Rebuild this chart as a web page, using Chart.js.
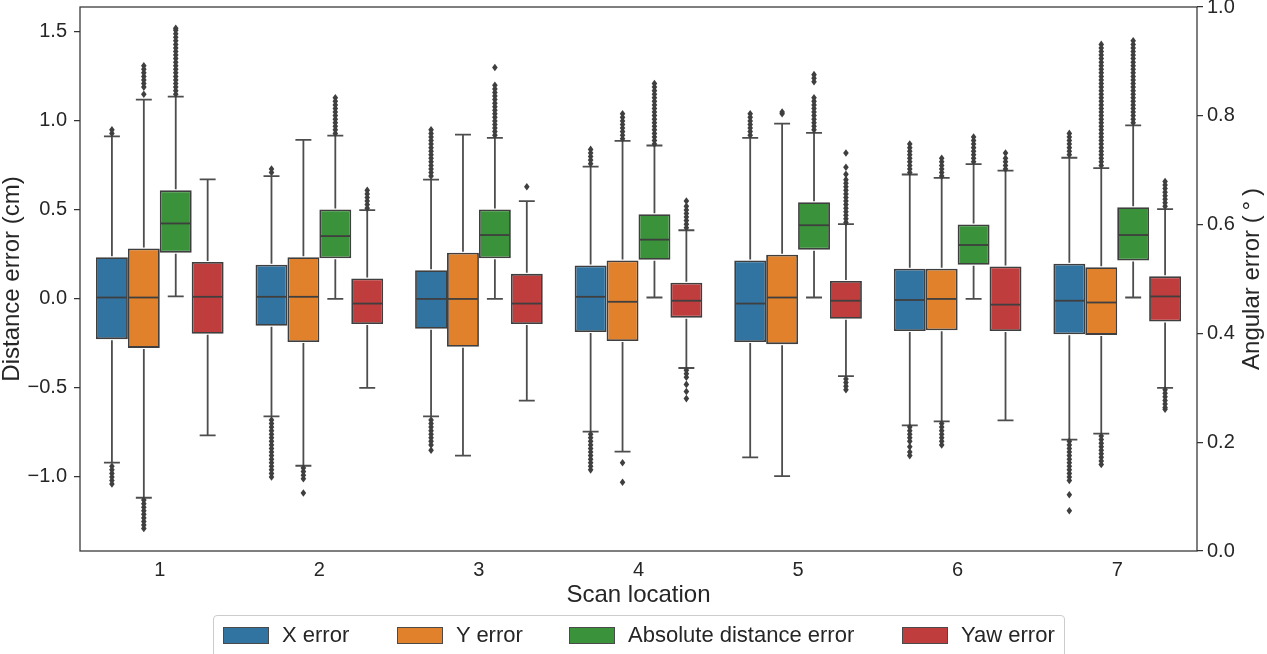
<!DOCTYPE html>
<html>
<head>
<meta charset="utf-8">
<title>Scan location errors</title>
<script src="https://cdn.jsdelivr.net/npm/chart.js@4.4.1/dist/chart.umd.min.js"></script>
<style>
    html, body { margin: 0; padding: 0; background: #fff; }
    #wrap { position: relative; width: 1267px; height: 654px; overflow: hidden; }
    #legend {
        position: absolute; left: 213px; top: 615px; width: 852px; height: 60px;
        border: 1px solid #cccccc; border-radius: 4px; box-sizing: border-box;
        font-family: 'Liberation Sans', Arial, sans-serif; font-size: 22px; color: #262626;
    }
    .lg-item { position: absolute; top: 9px; display: flex; align-items: center; height: 20px; }
    .lg-box { width: 44px; height: 15px; border: 1px solid #4a4a4a; margin-right: 13px; }
</style>
</head>
<body>
<div id="wrap">
    <canvas id="chart" width="1267" height="654"></canvas>
    <div id="legend"></div>
</div>
<script>
// 데이터 — scan location별 box 통계
const locations   = ['1', '2', '3', '4', '5', '6', '7'];
const seriesNames = ['X error', 'Y error', 'Absolute distance error', 'Yaw error'];
const seriesColors = ['#3274a1', '#e1812c', '#3a923a', '#c03d3e'];
const leftTicks  = [-1.0, -0.5, 0.0, 0.5, 1.0, 1.5];
const rightTicks = [0.0, 0.2, 0.4, 0.6, 0.8, 1.0];

// X error
const xLow  = [-0.92, -0.66, -0.66, -0.745, -0.89, -0.71, -0.79];
const xQ1   = [-0.226, -0.151, -0.168, -0.186, -0.242, -0.18, -0.198];
const xMed  = [0.008, 0.012, 0.0, 0.012, -0.026, -0.006, -0.01];
const xQ3   = [0.234, 0.192, 0.161, 0.188, 0.216, 0.17, 0.198];
const xHigh = [0.913, 0.69, 0.67, 0.743, 0.905, 0.699, 0.793];
const xOut  = [
    [0.93, 0.95, -0.94, -0.96, -0.98, -1.00, -1.02, -1.04],
    [0.71, 0.73, -0.68, -0.70, -0.72, -0.74, -0.76, -0.78, -0.80, -0.82, -0.84, -0.86, -0.88, -0.90, -0.92, -0.94, -0.96, -0.98, -1.00],
    [0.69, 0.71, 0.73, 0.75, 0.77, 0.79, 0.81, 0.83, 0.85, 0.87, 0.89, 0.91, 0.93, 0.95, -0.68, -0.70, -0.72, -0.74, -0.76, -0.78, -0.80, -0.82, -0.85],
    [0.76, 0.78, 0.80, 0.82, 0.84, -0.76, -0.78, -0.80, -0.82, -0.84, -0.86, -0.88, -0.90, -0.92, -0.94, -0.96],
    [0.92, 0.94, 0.96, 0.98, 1.00, 1.02, 1.04],
    [0.71, 0.73, 0.75, 0.77, 0.79, 0.81, 0.83, 0.85, 0.87, -0.72, -0.74, -0.76, -0.78, -0.80, -0.83, -0.86, -0.88],
    [0.81, 0.83, 0.85, 0.87, 0.89, 0.91, 0.93, -0.80, -0.82, -0.84, -0.86, -0.88, -0.90, -0.92, -0.94, -0.96, -0.98, -1.00, -1.02, -1.10, -1.19],
];

// Y error
const yLow  = [-1.117, -0.937, -0.88, -0.858, -0.995, -0.688, -0.757];
const yQ1   = [-0.275, -0.242, -0.269, -0.236, -0.254, -0.176, -0.202];
const yMed  = [0.008, 0.012, 0.0, -0.016, 0.008, 0.0, -0.02];
const yQ3   = [0.283, 0.234, 0.26, 0.216, 0.248, 0.17, 0.178];
const yHigh = [1.12, 0.894, 0.923, 0.888, 0.985, 0.68, 0.735];
const yOut  = [
    [1.15, 1.19, 1.21, 1.23, 1.25, 1.27, 1.29, 1.31, -1.13, -1.15, -1.17, -1.19, -1.21, -1.23, -1.25, -1.27, -1.29],
    [-0.95, -0.97, -0.99, -1.01, -1.09],
    [],
    [0.90, 0.92, 0.94, 0.96, 0.98, 1.00, 1.02, 1.04, -0.92, -1.03],
    [1.04, 1.05],
    [0.69, 0.71, 0.73, 0.75, 0.77, 0.79, -0.70, -0.72, -0.74, -0.76, -0.78, -0.80, -0.82],
    [0.75, 0.77, 0.79, 0.81, 0.83, 0.85, 0.87, 0.89, 0.91, 0.93, 0.95, 0.97, 0.99, 1.01, 1.03, 1.05, 1.07, 1.09, 1.11, 1.13,
     1.15, 1.17, 1.19, 1.21, 1.23, 1.25, 1.27, 1.29, 1.31, 1.33, 1.35, 1.37, 1.39, 1.41, 1.43,
     -0.77, -0.79, -0.81, -0.83, -0.85, -0.87, -0.89, -0.91, -0.93],
];

// Absolute distance error
const aLow  = [0.014, 0.0, 0.0, 0.008, 0.008, 0.0, 0.008];
const aQ1   = [0.26, 0.228, 0.228, 0.22, 0.277, 0.192, 0.216];
const aMed  = [0.424, 0.353, 0.359, 0.333, 0.414, 0.303, 0.359];
const aQ3   = [0.61, 0.503, 0.503, 0.476, 0.543, 0.418, 0.515];
const aHigh = [1.137, 0.917, 0.905, 0.862, 0.933, 0.757, 0.975];
const aOut  = [
    [1.15, 1.17, 1.19, 1.21, 1.23, 1.25, 1.27, 1.29, 1.31, 1.33, 1.35, 1.37, 1.39, 1.41, 1.43, 1.45, 1.47, 1.49, 1.51, 1.52],
    [0.93, 0.95, 0.97, 0.99, 1.01, 1.03, 1.05, 1.07, 1.09, 1.11, 1.13],
    [0.92, 0.94, 0.96, 0.98, 1.00, 1.02, 1.04, 1.06, 1.08, 1.10, 1.12, 1.14, 1.16, 1.18, 1.20, 1.30],
    [0.87, 0.89, 0.91, 0.93, 0.95, 0.97, 0.99, 1.01, 1.03, 1.05, 1.07, 1.09, 1.11, 1.13, 1.15, 1.17, 1.19, 1.21],
    [0.95, 0.97, 0.99, 1.01, 1.03, 1.05, 1.07, 1.09, 1.11, 1.13, 1.22, 1.24, 1.26],
    [0.77, 0.79, 0.81, 0.83, 0.85, 0.87, 0.89, 0.91],
    [0.99, 1.01, 1.03, 1.05, 1.07, 1.09, 1.11, 1.13, 1.15, 1.17, 1.19, 1.21, 1.23, 1.25, 1.27, 1.29, 1.31, 1.33, 1.35, 1.37, 1.39, 1.41, 1.43, 1.45],
];

// Yaw error
const wLow  = [-0.767, -0.5, -0.571, -0.388, -0.434, -0.682, -0.5];
const wQ1   = [-0.196, -0.141, -0.141, -0.105, -0.111, -0.18, -0.127];
const wMed  = [0.012, -0.026, -0.026, -0.01, -0.01, -0.032, 0.014];
const wQ3   = [0.208, 0.115, 0.141, 0.091, 0.101, 0.182, 0.127];
const wHigh = [0.672, 0.499, 0.549, 0.386, 0.42, 0.721, 0.505];
const wOut  = [
    [],
    [0.51, 0.53, 0.55, 0.57, 0.59, 0.61],
    [0.63],
    [0.40, 0.42, 0.44, 0.46, 0.48, 0.50, 0.52, 0.55, -0.40, -0.42, -0.44, -0.48, -0.52, -0.56],
    [0.43, 0.45, 0.47, 0.49, 0.51, 0.53, 0.55, 0.57, 0.59, 0.61, 0.63, 0.65, 0.67, 0.70, 0.74, 0.82, -0.45, -0.47, -0.49, -0.51],
    [0.73, 0.75, 0.77, 0.79, 0.82],
    [0.52, 0.54, 0.56, 0.58, 0.60, 0.62, 0.64, 0.66, -0.51, -0.53, -0.55, -0.57, -0.59, -0.61, -0.62],
];

const boxStats = [
    { q1: xQ1, q3: xQ3, low: xLow, med: xMed, high: xHigh, out: xOut },
    { q1: yQ1, q3: yQ3, low: yLow, med: yMed, high: yHigh, out: yOut },
    { q1: aQ1, q3: aQ3, low: aLow, med: aMed, high: aHigh, out: aOut },
    { q1: wQ1, q3: wQ3, low: wLow, med: wMed, high: wHigh, out: wOut },
];

const LINE = '#3f3f3f';
const TEXT = '#262626';
const FONT = "'Liberation Sans', Arial, sans-serif";

Chart.defaults.font.family = FONT;
Chart.defaults.color = TEXT;

const fmtTick = v => (v < 0 ? '\u2212' : '') + Math.abs(v).toFixed(1);

// 수염, 중앙값, 이상치 — 막대 요소 위치와 y 스케일로 그림
const boxPlugin = {
    id: 'boxWhiskers',
    afterDatasetsDraw(chart) {
        const ctx = chart.ctx;
        const yS = chart.scales.y;
        ctx.save();
        ctx.fillStyle = LINE;
        boxStats.forEach((st, d) => {
            const meta = chart.getDatasetMeta(d);
            meta.data.forEach((bar, i) => {
                const { x, width } = bar.getProps(['x', 'width'], true);
                const half = width / 2;
                const cap = width / 4;
                const pQ1 = yS.getPixelForValue(st.q1[i]);
                const pQ3 = yS.getPixelForValue(st.q3[i]);
                const pLo = yS.getPixelForValue(st.low[i]);
                const pHi = yS.getPixelForValue(st.high[i]);
                const pMd = yS.getPixelForValue(st.med[i]);
                ctx.strokeStyle = '#4d4d4d';
                ctx.lineWidth = 1.8;
                ctx.beginPath();
                ctx.moveTo(x, pQ3 - 1); ctx.lineTo(x, pHi);
                ctx.moveTo(x - cap, pHi); ctx.lineTo(x + cap, pHi);
                ctx.moveTo(x, pQ1 + 1); ctx.lineTo(x, pLo);
                ctx.moveTo(x - cap, pLo); ctx.lineTo(x + cap, pLo);
                ctx.stroke();
                ctx.strokeStyle = LINE;
                ctx.beginPath();
                ctx.moveTo(x - half + 1, pMd); ctx.lineTo(x + half - 1, pMd);
                ctx.stroke();
                st.out[i].forEach(v => {
                    const py = yS.getPixelForValue(v);
                    ctx.beginPath();
                    ctx.moveTo(x, py - 3.8);
                    ctx.lineTo(x + 2.8, py);
                    ctx.lineTo(x, py + 3.8);
                    ctx.lineTo(x - 2.8, py);
                    ctx.closePath();
                    ctx.fill();
                });
            });
        });
        // 축 테두리
        const a = chart.chartArea;
        ctx.strokeStyle = '#333333';
        ctx.lineWidth = 1.25;
        ctx.strokeRect(a.left, a.top, a.right - a.left, a.bottom - a.top);
        ctx.restore();
    },
    afterDraw(chart) {
        const ctx = chart.ctx;
        const a = chart.chartArea;
        ctx.save();
        ctx.fillStyle = TEXT;
        ctx.font = '24px ' + FONT;
        ctx.textAlign = 'center';
        ctx.textBaseline = 'middle';
        ctx.translate(1252, (a.top + a.bottom) / 2);
        ctx.rotate(-Math.PI / 2);
        ctx.fillText('Angular error (\u2009\u00b0\u2009)', 0, 0);
        ctx.restore();
    }
};

new Chart(document.getElementById('chart'), {
    type: 'bar',
    data: {
        labels: locations,
        datasets: boxStats.map((st, d) => ({
            label: seriesNames[d],
            data: st.q1.map((v, i) => [v, st.q3[i]]),
            backgroundColor: seriesColors[d],
            borderColor: LINE,
            borderWidth: 1.8,
            borderSkipped: false,
            categoryPercentage: 0.8,
            barPercentage: 1.0,
            yAxisID: 'y',
        }))
    },
    options: {
        responsive: false,
        animation: false,
        events: [],
        layout: { padding: { top: 7, left: 0, right: 0, bottom: 0 } },
        plugins: { legend: { display: false }, tooltip: { enabled: false } },
        scales: {
            x: {
                offset: true,
                grid: { display: false, drawTicks: false },
                border: { display: false },
                ticks: { font: { size: 20 }, padding: 7, color: TEXT },
                title: { display: true, text: 'Scan location', font: { size: 24, lineHeight: 1 }, padding: { top: 0, bottom: 47 }, color: TEXT },
                afterFit: s => { s.height = 103; s.paddingLeft = 0; s.paddingRight = 0; },
            },
            y: {
                position: 'left',
                min: -1.416, max: 1.64,
                grid: { drawOnChartArea: false, drawTicks: true, tickLength: 6, color: '#333333', lineWidth: 1.25 },
                border: { display: false },
                ticks: { font: { size: 20 }, padding: 7, color: TEXT, callback: fmtTick },
                afterBuildTicks: s => { s.ticks = leftTicks.map(v => ({ value: v })); },
                title: { display: true, text: 'Distance error (cm)', font: { size: 24, lineHeight: 1 }, padding: { top: 0, bottom: 0 }, color: TEXT },
                afterFit: s => { s.width = 80; s.paddingTop = 0; s.paddingBottom = 0; },
            },
            y2: {
                position: 'right',
                min: 0, max: 1,
                grid: { drawOnChartArea: false, drawTicks: true, tickLength: 6, color: '#333333', lineWidth: 1.25 },
                border: { display: false },
                ticks: { font: { size: 20 }, padding: 4, color: TEXT, callback: v => v.toFixed(1) },
                afterBuildTicks: s => { s.ticks = rightTicks.map(v => ({ value: v })); },
                afterFit: s => { s.width = 70; s.paddingTop = 0; s.paddingBottom = 0; },
            }
        }
    },
    plugins: [boxPlugin]
});

// 범례
const legendLefts = [9, 183, 355, 688];
document.getElementById('legend').innerHTML = seriesNames.map((n, i) =>
    `<div class="lg-item" style="left:${legendLefts[i]}px">
        <div class="lg-box" style="background:${seriesColors[i]}"></div><span>${n}</span>
    </div>`
).join('');
</script>
</body>
</html>
